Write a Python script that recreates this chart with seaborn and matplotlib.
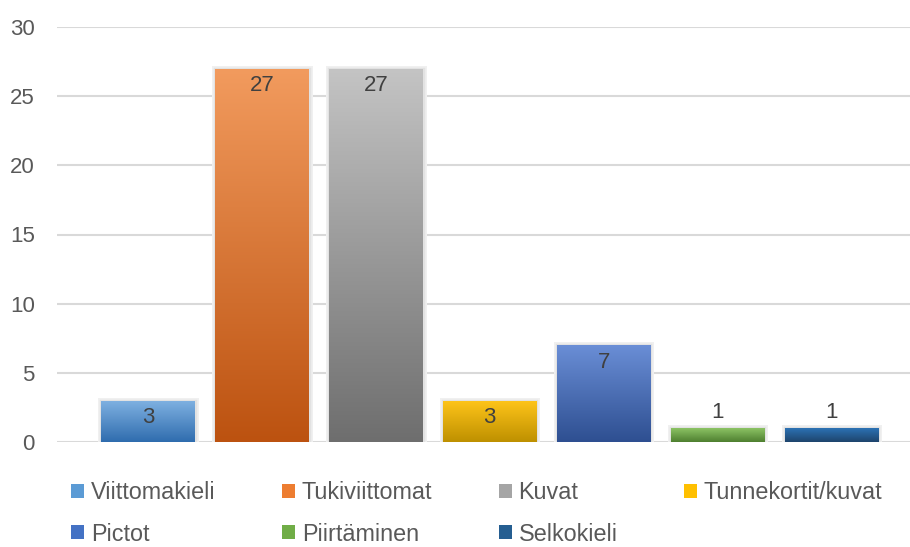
import numpy as np
import pandas as pd
import matplotlib
matplotlib.use('Agg')
import matplotlib.pyplot as plt
import matplotlib.patheffects as pe
from matplotlib.colors import LinearSegmentedColormap
from matplotlib.patches import Patch
import seaborn as sns

# Data
categories = ['Viittomakieli', 'Tukiviittomat', 'Kuvat', 'Tunnekortit/kuvat',
              'Pictot', 'Piirtäminen', 'Selkokieli']
values = [3, 27, 27, 3, 7, 1, 1]
top_colors = ['#80B2E2', '#F29B5E', '#C4C4C4', '#FFC51A', '#6A8ED6', '#8CC364', '#2C72B4']
bottom_colors = ['#2F6CAE', '#BC5210', '#6E6E6E', '#BE9000', '#2E4F91', '#4E7F30', '#1E446C']
mid_colors = ['#5B9BD5', '#ED7D31', '#A5A5A5', '#FFC000', '#4472C4', '#70AD47', '#255E91']

df = pd.DataFrame({'Kategoria': categories, 'Määrä': values})

sns.set_style('white')
plt.rcParams['font.family'] = ['Liberation Sans', 'DejaVu Sans']

fig = plt.figure(figsize=(9.1, 5.47), dpi=100)
ax = fig.add_axes([57 / 910, 1 - 442 / 547, 853 / 910, 415 / 547])

sns.barplot(data=df, x='Kategoria', y='Määrä', hue='Kategoria', palette=mid_colors,
            width=0.82, legend=False, ax=ax, zorder=3, linewidth=0)

# Gradient fill + soft edge shadow on each bar
for patch, c_top, c_bot in zip(ax.patches, top_colors, bottom_colors):
    patch.set_edgecolor('none')
    patch.set_path_effects([pe.Stroke(linewidth=5, foreground='#F0F0F0'),
                            pe.Stroke(linewidth=2.5, foreground='#E2E2E2'), pe.Normal()])
    x0, y0 = patch.get_x(), patch.get_y()
    w, h = patch.get_width(), patch.get_height()
    cmap = LinearSegmentedColormap.from_list('g', [c_bot, c_top])
    grad = np.linspace(0, 1, 256).reshape(-1, 1)
    im = ax.imshow(grad, cmap=cmap, aspect='auto', origin='lower',
                   extent=[x0, x0 + w, y0, y0 + h], zorder=4)
    im.set_clip_path(patch)

# Value labels
for i, v in enumerate(values):
    if v >= 3:
        ax.annotate(str(v), (i, v), xytext=(0, -5), textcoords='offset points',
                    ha='center', va='top', fontsize=16, color='#404040', zorder=5)
    else:
        ax.annotate(str(v), (i, v), xytext=(0, 4), textcoords='offset points',
                    ha='center', va='bottom', fontsize=16, color='#404040', zorder=5)

ax.set_xlim(-0.80, 6.69)
ax.set_ylim(0, 30)
ax.set_yticks(range(0, 31, 5))
ax.set_xticks([])
ax.set_xlabel('')
ax.set_ylabel('')
ax.tick_params(axis='y', length=0, pad=16, labelsize=16, labelcolor='#595959')
ax.grid(axis='y', color='#D9D9D9', linewidth=1.5, zorder=0)
ax.set_axisbelow(True)
sns.despine(ax=ax, left=True, bottom=True)

# legend fills column-wise, so reorder to read row-wise like the original
order = [0, 4, 1, 5, 2, 6, 3]
handles = [Patch(facecolor=mid_colors[k], edgecolor='none') for k in order]
labels = [categories[k] for k in order]
fig.legend(handles, labels, ncol=4, loc='upper left',
           bbox_to_anchor=(71 / 910, 1 - 481 / 547), frameon=False,
           fontsize=16.8, labelcolor='#595959', handlelength=0.55, handleheight=0.55,
           handletextpad=0.3, columnspacing=2.85, labelspacing=0.8,
           borderpad=0, borderaxespad=0)

fig.savefig('out.png', dpi=100)
